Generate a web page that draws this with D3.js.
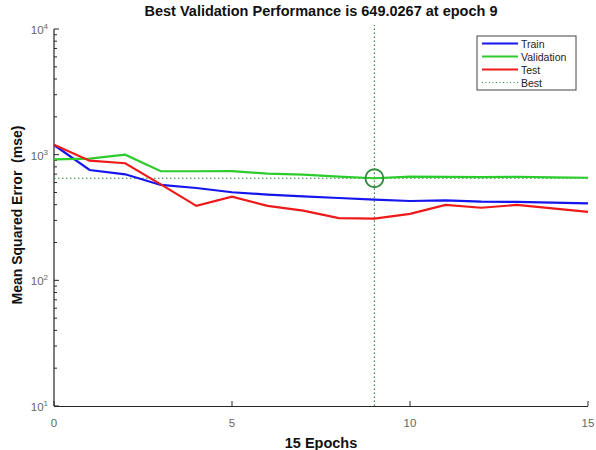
<!DOCTYPE html>
<html>
<head>
<meta charset="utf-8">
<script src="https://cdn.jsdelivr.net/npm/d3@7"></script>
<style>
  body { margin: 0; background: #fff; }
  svg { font-family: "Liberation Sans", Arial, sans-serif; }
</style>
</head>
<body>
<div id="chart"></div>
<script>
// values
const epochs = d3.range(0, 16);
const train = [1194, 755, 698, 574, 543, 502, 481, 465, 452, 439, 428, 433, 423, 421, 415, 410];
const validation = [918, 930, 1000, 738, 738, 740, 706, 693, 668, 649.0267, 668, 665, 663, 667, 660, 655];
const test = [1200, 896, 855, 580, 391, 464, 391, 359, 313, 310, 338, 398, 378, 398, 374, 350];
const xTicks = [0, 5, 10, 15];
const yTicks = [10, 100, 1000, 10000];
const bestEpoch = 9;
const bestValue = 649.0267;

const series = [
  { name: 'Train', values: train, color: '#1515ee' },
  { name: 'Validation', values: validation, color: '#2ccc2c' },
  { name: 'Test', values: test, color: '#ee1a1a' }
];

const width = 596, height = 450;
const margin = { top: 29, right: 8, bottom: 44, left: 54 };

const svg = d3.select('#chart').append('svg')
  .attr('width', width)
  .attr('height', height);

const x = d3.scaleLinear().domain([0, 15]).range([margin.left, width - margin.right]);
const y = d3.scaleLog().domain([10, 10000]).range([height - margin.bottom, margin.top]);

// minor log ticks on y
const minor = [];
[10, 100, 1000].forEach(d => { for (let k = 2; k <= 9; k++) minor.push(d * k); });

const axisColor = '#262626';
const labelColor = '#666';

svg.append('g')
  .selectAll('line')
  .data(minor)
  .join('line')
  .attr('x1', margin.left).attr('x2', margin.left + 3)
  .attr('y1', d => y(d)).attr('y2', d => y(d))
  .attr('stroke', axisColor).attr('stroke-width', 1);

svg.append('g')
  .selectAll('line')
  .data(yTicks)
  .join('line')
  .attr('x1', margin.left).attr('x2', margin.left + 5)
  .attr('y1', d => y(d)).attr('y2', d => y(d))
  .attr('stroke', axisColor).attr('stroke-width', 1);

svg.append('g')
  .selectAll('line')
  .data(xTicks)
  .join('line')
  .attr('x1', d => x(d)).attr('x2', d => x(d))
  .attr('y1', y(10)).attr('y2', y(10) - 5)
  .attr('stroke', axisColor).attr('stroke-width', 1);

// axis lines
svg.append('line')
  .attr('x1', margin.left).attr('x2', margin.left)
  .attr('y1', y(10)).attr('y2', y(10000))
  .attr('stroke', axisColor).attr('stroke-width', 1.2);
svg.append('line')
  .attr('x1', margin.left).attr('x2', x(15))
  .attr('y1', y(10) + 0.5).attr('y2', y(10) + 0.5)
  .attr('stroke', axisColor).attr('stroke-width', 1.2);

// y tick labels 10^n
const yLab = svg.append('g')
  .selectAll('text')
  .data(yTicks)
  .join('text')
  .attr('x', margin.left - 6)
  .attr('y', d => y(d) + 5)
  .attr('text-anchor', 'end')
  .attr('font-size', 11.5)
  .attr('fill', labelColor);
yLab.append('tspan').text('10');
yLab.append('tspan')
  .attr('dy', -5)
  .attr('font-size', 8)
  .text(d => Math.round(Math.log10(d)));

svg.append('g')
  .selectAll('text')
  .data(xTicks)
  .join('text')
  .attr('x', d => x(d))
  .attr('y', y(10) + 21)
  .attr('text-anchor', 'middle')
  .attr('font-size', 11.5)
  .attr('fill', labelColor)
  .text(d => d);

// best markers
const bestColor = '#2e8b3a';
svg.append('line')
  .attr('x1', x(bestEpoch)).attr('x2', x(bestEpoch))
  .attr('y1', y(10)).attr('y2', y(10000) - 4)
  .attr('stroke', bestColor).attr('stroke-width', 1.2)
  .attr('stroke-dasharray', '1.5,2.5');
svg.append('line')
  .attr('x1', x(0)).attr('x2', x(15))
  .attr('y1', y(bestValue)).attr('y2', y(bestValue))
  .attr('stroke', bestColor).attr('stroke-width', 1.2)
  .attr('stroke-dasharray', '1.5,2.5');

// series lines
const line = d3.line()
  .x((d, i) => x(epochs[i]))
  .y(d => y(d));

svg.append('g')
  .selectAll('path')
  .data(series)
  .join('path')
  .attr('d', d => line(d.values))
  .attr('fill', 'none')
  .attr('stroke', d => d.color)
  .attr('stroke-width', 2.2);

svg.append('circle')
  .attr('cx', x(bestEpoch))
  .attr('cy', y(bestValue))
  .attr('r', 9)
  .attr('fill', 'none')
  .attr('stroke', bestColor)
  .attr('stroke-width', 1.8);

// title and labels
svg.append('text')
  .attr('x', 321).attr('y', 16)
  .attr('text-anchor', 'middle')
  .attr('font-size', 14.5)
  .attr('font-weight', 'bold')
  .attr('fill', '#111')
  .text('Best Validation Performance is 649.0267 at epoch 9');

svg.append('text')
  .attr('x', 321).attr('y', 448)
  .attr('text-anchor', 'middle')
  .attr('font-size', 14.5)
  .attr('font-weight', 'bold')
  .attr('fill', '#111')
  .text('15 Epochs');

svg.append('text')
  .attr('transform', `translate(22,215) rotate(-90)`)
  .attr('text-anchor', 'middle')
  .attr('font-size', 14)
  .attr('font-weight', 'bold')
  .attr('fill', '#111')
  .attr('xml:space', 'preserve')
  .text('Mean Squared Error  (mse)');

// legend
const legend = svg.append('g').attr('transform', 'translate(477,36)');
legend.append('rect')
  .attr('width', 99).attr('height', 54)
  .attr('fill', '#fff')
  .attr('stroke', '#444').attr('stroke-width', 1);

const legendItems = series.concat([{ name: 'Best', color: bestColor, dotted: true }]);
const rows = legend.selectAll('g')
  .data(legendItems)
  .join('g')
  .attr('transform', (d, i) => `translate(0,${7.5 + i * 13})`);
rows.append('line')
  .attr('x1', 5).attr('x2', 41)
  .attr('stroke', d => d.color)
  .attr('stroke-width', d => d.dotted ? 1 : 2.2)
  .attr('stroke-dasharray', d => d.dotted ? '1,2.5' : null);
rows.append('text')
  .attr('x', 44).attr('y', 4)
  .attr('font-size', 10.5)
  .attr('fill', '#222')
  .text(d => d.name);
</script>
</body>
</html>
